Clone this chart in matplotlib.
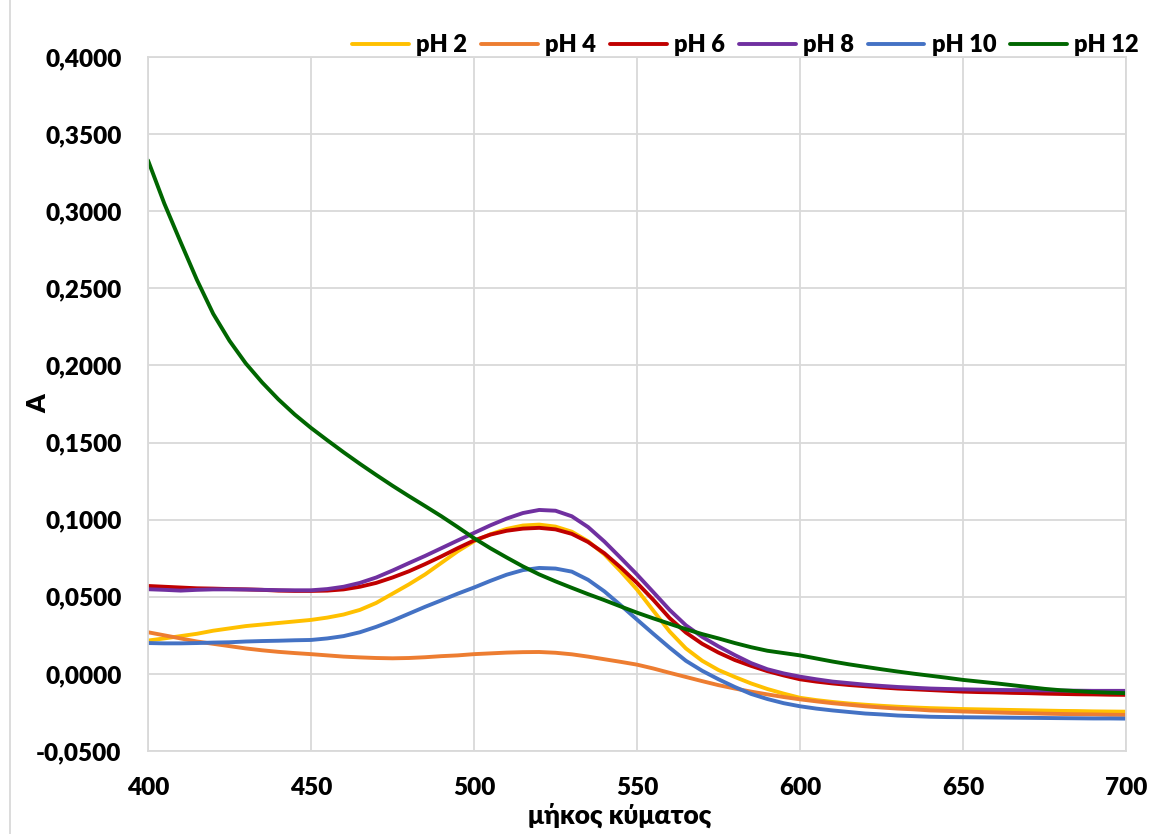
import matplotlib
matplotlib.use("Agg")
import matplotlib.pyplot as plt
import numpy as np
from matplotlib.lines import Line2D
from matplotlib.ticker import FuncFormatter

# wavelength grid (nm)
wl = list(range(400, 701, 5))

ph2 = [0.0216, 0.0230, 0.0245, 0.0260, 0.0280, 0.0295, 0.0310, 0.0320, 0.0330, 0.0340,
       0.0350, 0.0365, 0.0385, 0.0415, 0.0460, 0.0520, 0.0580, 0.0645, 0.0720, 0.0795,
       0.0860, 0.0905, 0.0940, 0.0962, 0.0968, 0.0955, 0.0922, 0.0860, 0.0775, 0.0665,
       0.0547, 0.0410, 0.0275, 0.0165, 0.0085, 0.0025, -0.0020, -0.0062, -0.0098, -0.0128,
       -0.0155, -0.0170, -0.0182, -0.0192, -0.0200, -0.0207, -0.0213, -0.0218, -0.0222, -0.0225,
       -0.0228, -0.0230, -0.0232, -0.0234, -0.0236, -0.0238, -0.0240, -0.0241, -0.0243, -0.0244,
       -0.0245]

ph4 = [0.0270, 0.0250, 0.0230, 0.0210, 0.0195, 0.0180, 0.0165, 0.0153, 0.0143, 0.0135,
       0.0128, 0.0120, 0.0112, 0.0107, 0.0103, 0.0101, 0.0103, 0.0108, 0.0115, 0.0120,
       0.0128, 0.0133, 0.0138, 0.0141, 0.0142, 0.0137, 0.0127, 0.0112, 0.0095, 0.0078,
       0.0060, 0.0035, 0.0007, -0.0020, -0.0047, -0.0073, -0.0095, -0.0115, -0.0133, -0.0150,
       -0.0165, -0.0178, -0.0190, -0.0200, -0.0210, -0.0218, -0.0225, -0.0230, -0.0237, -0.0240,
       -0.0244, -0.0247, -0.0250, -0.0253, -0.0255, -0.0258, -0.0260, -0.0262, -0.0263, -0.0265,
       -0.0266]

ph6 = [0.0570, 0.0565, 0.0560, 0.0555, 0.0553, 0.0550, 0.0548, 0.0545, 0.0540, 0.0538,
       0.0538, 0.0540, 0.0548, 0.0565, 0.0590, 0.0625, 0.0665, 0.0712, 0.0762, 0.0815,
       0.0865, 0.0903, 0.0928, 0.0942, 0.0947, 0.0937, 0.0908, 0.0855, 0.0782, 0.0690,
       0.0590, 0.0480, 0.0362, 0.0268, 0.0195, 0.0138, 0.0090, 0.0052, 0.0018, -0.0010,
       -0.0035, -0.0050, -0.0062, -0.0072, -0.0080, -0.0088, -0.0095, -0.0100, -0.0105, -0.0110,
       -0.0115, -0.0118, -0.0120, -0.0123, -0.0125, -0.0128, -0.0130, -0.0132, -0.0133, -0.0135,
       -0.0136]

ph8 = [0.0549, 0.0545, 0.0540, 0.0545, 0.0548, 0.0548, 0.0547, 0.0545, 0.0543, 0.0542,
       0.0542, 0.0550, 0.0565, 0.0590, 0.0625, 0.0670, 0.0718, 0.0765, 0.0815, 0.0865,
       0.0914, 0.0963, 0.1007, 0.1043, 0.1063, 0.1058, 0.1022, 0.0952, 0.0858, 0.0752,
       0.0644, 0.0530, 0.0415, 0.0315, 0.0240, 0.0178, 0.0122, 0.0070, 0.0030, 0.0003,
       -0.0018, -0.0035, -0.0050, -0.0060, -0.0070, -0.0078, -0.0085, -0.0090, -0.0095, -0.0098,
       -0.0100, -0.0102, -0.0104, -0.0105, -0.0106, -0.0107, -0.0108, -0.0109, -0.0110, -0.0110,
       -0.0110]

ph10 = [0.0200, 0.0198, 0.0198, 0.0200, 0.0203, 0.0205, 0.0210, 0.0213, 0.0215, 0.0218,
        0.0220, 0.0230, 0.0245, 0.0270, 0.0305, 0.0345, 0.0390, 0.0435, 0.0477, 0.0520,
        0.0560, 0.0603, 0.0643, 0.0673, 0.0687, 0.0683, 0.0663, 0.0610, 0.0535, 0.0445,
        0.0352, 0.0260, 0.0170, 0.0085, 0.0020, -0.0035, -0.0085, -0.0130, -0.0163, -0.0190,
        -0.0210, -0.0225, -0.0237, -0.0247, -0.0257, -0.0263, -0.0270, -0.0274, -0.0278, -0.0280,
        -0.0281, -0.0282, -0.0283, -0.0284, -0.0285, -0.0286, -0.0287, -0.0288, -0.0289, -0.0289,
        -0.0290]

ph12 = [0.3330, 0.3050, 0.2800, 0.2555, 0.2335, 0.2160, 0.2013, 0.1890, 0.1780, 0.1682,
        0.1595, 0.1515, 0.1437, 0.1362, 0.1290, 0.1220, 0.1153, 0.1088, 0.1022, 0.0952,
        0.0880, 0.0815, 0.0755, 0.0697, 0.0645, 0.0600, 0.0558, 0.0517, 0.0478, 0.0437,
        0.0397, 0.0360, 0.0325, 0.0290, 0.0258, 0.0230, 0.0200, 0.0173, 0.0150, 0.0135,
        0.0120, 0.0100, 0.0080, 0.0062, 0.0046, 0.0030, 0.0015, 0.0001, -0.0012, -0.0025,
        -0.0039, -0.0050, -0.0061, -0.0073, -0.0085, -0.0097, -0.0106, -0.0112, -0.0118, -0.0122,
        -0.0125]

labels = ["pH 2", "pH 4", "pH 6", "pH 8", "pH 10", "pH 12"]
colors = ["#FFC000", "#ED7D31", "#C00000", "#7030A0", "#4472C4", "#006600"]

plt.rcParams['font.family'] = ['Lato', 'DejaVu Sans']
plt.rcParams['font.weight'] = 'heavy'

fig = plt.figure(figsize=(11.51, 8.34), dpi=100)
ax = fig.add_axes([148/1151, 1-751/834, (1126-148)/1151, (751-57)/834])

for ys, lab, c in zip([ph2, ph4, ph6, ph8, ph10, ph12], labels, colors):
    ax.plot(wl, ys, color=c, lw=2.8, label=lab, solid_capstyle='round', solid_joinstyle='round')

ax.set_xlim(400, 700)
ax.set_ylim(-0.05, 0.4)
ax.set_xticks(np.arange(400, 701, 50))
ax.set_yticks(np.arange(-0.05, 0.4001, 0.05))
ax.yaxis.set_major_formatter(FuncFormatter(lambda v, p: ("%.4f" % v).replace(".", ",").replace("-0,0000", "0,0000")))
ax.grid(True, color="#D9D9D9", lw=1.3)
ax.set_axisbelow(True)
for s in ax.spines.values():
    s.set_color("#D9D9D9")
    s.set_linewidth(1.3)
ax.tick_params(length=0, labelsize=17.5)
ax.tick_params(axis='x', pad=19)
ax.tick_params(axis='y', pad=19)
for t in ax.get_xticklabels() + ax.get_yticklabels():
    t.set_fontweight('heavy')

ax.set_xlabel("μήκος κύματος", fontsize=19, fontweight='heavy', va='center')
ax.xaxis.set_label_coords((620-148)/978, -0.092)
ax.set_ylabel("A", fontsize=19, fontweight='heavy', va='center')
ax.yaxis.set_label_coords(-0.112, 0.5)

ax.legend(loc="center right", bbox_to_anchor=(1160/1151, 1-45/834), bbox_transform=fig.transFigure,
          ncol=6, frameon=False, handlelength=2.4, columnspacing=0.6, handletextpad=0.3,
          prop={'weight': 'heavy', 'size': 17})

fig.add_artist(Line2D([10/1151, 10/1151], [0, 1], transform=fig.transFigure, color="#D9D9D9", lw=1.3))

fig.savefig("out.png", dpi=100)
